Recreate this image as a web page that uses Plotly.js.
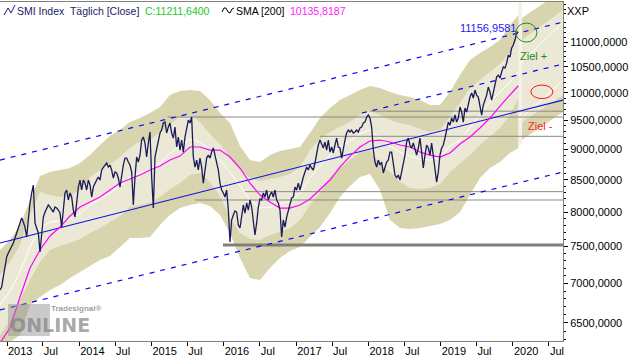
<!DOCTYPE html>
<html><head><meta charset="utf-8">
<script src="https://cdn.plot.ly/plotly-3.0.1.min.js"></script>
<style>html,body{margin:0;padding:0;background:#fff}#chart{width:640px;height:360px}</style>
</head><body><div id="chart"></div>
<script>
// ---- time index: series are sampled every ~8.42 days starting 2012-11-26
const seriesStartUTC = Date.UTC(2012, 10, 26, 15);
const sampleDays = 8.4198;

// SMI daily close (sampled)
const smiClose = [
6914,6953,7085,7219,7355,7410,7452,7494,7550,7621,
7693,7765,7838,7912,7853,7779,7635,7926,8137,8291,
8416,7838,7779,7693,7424,7736,7926,8001,8061,8107,
8076,8031,8001,8076,8061,8031,7986,7779,8031,8291,
8338,8183,8291,8229,8031,7926,8137,8384,8495,8338,
8495,8447,8338,8495,8416,8229,8384,8447,8495,8543,
8495,8656,8704,8737,8770,8704,8737,8656,8527,8624,
8608,8527,8384,8608,8737,8852,8852,8786,8737,8624,
8107,8543,8869,8786,8902,9156,9208,9105,8869,9105,
9294,8543,8061,8869,9020,9156,9277,9329,9452,9469,
9277,9381,9452,9277,9190,9381,9037,9208,8986,9156,
8952,9208,9381,9505,9452,9559,8869,8704,8819,8656,
8852,8704,8447,8656,8852,8902,8852,8952,9020,8902,
8786,8656,8447,8338,8291,8229,8338,8031,7565,7882,
7956,8016,8001,7809,7765,7926,8107,7986,8137,8031,
8183,8076,7882,7664,7838,8076,8199,8183,8291,8229,
8338,8183,8260,8307,8229,8338,8183,8137,8031,7635,
7882,7779,7926,8031,8137,8214,8229,8384,8338,8447,
8338,8463,8543,8624,8704,8656,8737,8688,8656,8770,
8936,9071,9156,9071,9020,9122,8986,9156,8952,9037,
8936,9071,9190,9037,9020,8852,9020,9156,9277,9329,
9294,9329,9277,9294,9329,9294,9364,9381,9452,9469,
9559,9595,9541,9381,8986,8786,8704,8819,8737,8786,
8608,8688,8786,8819,8952,8952,8737,8575,8527,8575,
8495,8624,8786,8902,9122,9190,9071,9020,9105,9020,
8902,9020,9190,8952,8688,8902,9071,9020,8902,9105,
8902,8624,8463,8624,8902,9020,9071,9190,9364,9469,
9416,9541,9469,9595,9469,9541,9740,9649,9469,9721,
9649,9813,9923,9998,9905,10054,9960,9923,9721,9595,
9776,9868,9960,10111,10016,9868,10016,10187,10302,10341,
10283,10399,10497,10477,10575,10735,10695,10877,10938,11041,
11186,11211.64];

// SMA 200 (every 6th sample + last)
const sma200 = [6261,6439,6824,7205,7452,7650,7779,7941,8076,8152,8229,8338,8447,8511,8575,8656,8720,8819,8885,9037,
9037,8986,8986,8869,8688,8447,8260,8152,8061,8061,8107,8199,8338,8495,8704,8885,9037,9139,9156,9122,
9071,9037,8952,8902,8869,8936,9088,9208,9364,9541,9758,9960,10135.8187];

// band (every 6th sample + last)
const bandOuterUpper = [7452,7593,7809,8183,8559,8624,8656,8688,8770,8902,9071,9225,9329,9469,9541,9631,9740,9960,10035,10054,
10035,9868,9631,9452,9054,8819,8786,8902,8969,9003,9037,9277,9541,9721,9868,9960,10054,10130,10092,10016,
9960,9923,9868,9776,9776,10016,10341,10635,10775,10897,11041,11355,11569];
const bandInnerUpper = [7111,7287,7522,7956,8307,8260,8229,8245,8338,8543,8656,8753,8869,9020,9139,9156,9294,9434,9559,9595,
9469,9259,9088,8852,8656,8527,8479,8511,8543,8591,8704,8986,9173,9294,9381,9469,9595,9667,9595,9505,
9452,9416,9347,9294,9329,9559,9813,10092,10244,10399,10556,10795,11144];
const bandCenter = [6723,6901,7151,7494,7779,7853,7867,7897,7971,8107,8199,8291,8400,8543,8608,8656,8770,8936,9054,9173,
9122,8986,8819,8624,8400,8183,8061,8076,8122,8168,8291,8527,8720,8902,9037,9139,9259,9329,9190,9054,
8952,8885,8835,8819,8869,9054,9156,9364,9595,9831,10016,10206,10399];
const bandInnerLower = [6355,6537,6786,7045,7287,7452,7508,7550,7607,7693,7765,7853,7941,8076,8107,8137,8229,8354,8447,8575,
8608,8463,8245,7912,7693,7607,7593,7664,7707,7765,7882,8107,8291,8543,8688,8819,8952,8986,8737,8624,
8463,8369,8354,8369,8432,8624,8770,8902,9071,9225,9364,9595,9905];
const bandOuterLower = [6237,6272,6355,6723,6824,6914,6979,7071,7151,7232,7314,7369,7494,7621,7621,7635,7809,7956,8061,8107,
8137,8091,7956,7693,7342,7071,7045,7205,7342,7438,7494,7635,7779,7986,8229,8401,8543,8591,8338,7882,
7765,7751,7765,7794,7823,7882,8001,8260,8527,8688,8786,8936,9020];

// projection zone right of the data
const projDates = ['2020-02-15', '2020-09-10'];
const projOuterTop = [11505, 12125];
const projOuterBottom = [9156, 9649];
const projInnerTop = [11041, 11678];
const projInnerBottom = [9469, 9960];
const projLineA = [10595, 11419];
const projLineB = [9541, 10244];
const gapDates = ['2020-01-28', '2020-02-15'];
const gapTop = [12125, 12125];
const gapBottom = [9071, 9071];

// channel lines
const chanDates = ['2012-11-26 15:00', '2020-09-10'];
const chanUpperDashed = [8819, 11419];
const chanLowerDashed = [6660, 8624];
const trendSolid = [7550, 9868];
const midDashedDates = ['2017-11-29', '2020-09-10'];
const midDashed = [9631, 10556];

// horizontal levels
const levelValues = [9559, 9664, 9220, 8312, 8183, 7522];
const levelStarts = ['2015-03-24', '2018-01-09', '2017-05-01', '2016-04-17', '2015-08-09', '2015-12-28'];
const levelWidths = [1, 1, 1, 1, 1, 3];
const levelEnd = '2020-09-10';

// labels / markers
const lastChannelValue = 11156.9581;
const targetUpValue = 10715, targetUpDate = '2020-04-14';
const targetDownValue = 9399, targetDownDate = '2020-05-21';
const greenEllipse = {d0: '2020-01-16', d1: '2020-05-01', v0: 11000, v1: 11398};
const redEllipse = {d0: '2020-04-01', d1: '2020-07-21', v0: 9895, v1: 10149};

// axes
const yTickVals = [6500,7000,7500,8000,8500,9000,9500,10000,10500,11000];
const yTickText = ['6500,0000','7000,0000','7500,0000','8000,0000','8500,0000','9000,0000','9500,0000','10000,0000','10500,0000','11000,0000'];
const xTickVals = ['2013-01-01','2013-07-01','2014-01-01','2014-07-01','2015-01-01','2015-07-01','2016-01-01','2016-07-01',
'2017-01-01','2017-07-01','2018-01-01','2018-07-01','2019-01-01','2019-07-01','2020-01-01','2020-07-01'];
const xTickText = ['2013','Jul','2014','Jul','2015','Jul','2016','Jul','2017','Jul','2018','Jul','2019','Jul','2020','Jul'];

// ---- build
function sampleDate(k) {
  return new Date(seriesStartUTC + k * sampleDays * 86400000).toISOString().slice(0, 19).replace('T', ' ');
}
const priceX = smiClose.map((_, i) => sampleDate(i));
const lastK = smiClose.length - 1;
const bandX = bandOuterUpper.map((_, i) => sampleDate(i === bandOuterUpper.length - 1 ? lastK : i * 6));

const DARK = '#d8d4ae', LIGHT = '#ebe9d6', STRIP = '#f3f2e8';
const FONT = 'Liberation Sans, Arial, sans-serif';

const traces = [];
const poly = (xs, top, bot, color) => ({x: [xs[0], xs[1], xs[1], xs[0]], y: [top[0], top[1], bot[1], bot[0]],
  mode: 'lines', fill: 'toself', fillcolor: color, line: {width: 0}, hoverinfo: 'skip'});
traces.push(poly(projDates, projOuterTop, projOuterBottom, DARK));
traces.push(poly(projDates, projInnerTop, projInnerBottom, LIGHT));
traces.push(poly(gapDates, gapTop, gapBottom, STRIP));
traces.push({x: bandX, y: bandOuterUpper, mode: 'lines', line: {width: 0}});
traces.push({x: bandX, y: bandOuterLower, mode: 'lines', line: {width: 0}, fill: 'tonexty', fillcolor: DARK});
traces.push({x: bandX, y: bandInnerUpper, mode: 'lines', line: {width: 0}});
traces.push({x: bandX, y: bandInnerLower, mode: 'lines', line: {width: 0}, fill: 'tonexty', fillcolor: LIGHT});
traces.push({x: bandX, y: bandCenter, mode: 'lines', line: {width: 1, color: '#ffffff'}});
traces.push({x: projDates, y: projLineA, mode: 'lines', line: {width: 1, color: '#ffffff'}});
traces.push({x: projDates, y: projLineB, mode: 'lines', line: {width: 1, color: '#ffffff'}});
levelValues.forEach((v, i) => traces.push({x: [levelStarts[i], levelEnd], y: [v, v], mode: 'lines',
  line: {width: levelWidths[i], color: levelWidths[i] > 1 ? '#808078' : '#8a8a84'}}));
const BLUE = '#0a0ae6';
traces.push({x: chanDates, y: chanUpperDashed, mode: 'lines', line: {width: 1.2, color: BLUE, dash: '5px,6px'}});
traces.push({x: chanDates, y: chanLowerDashed, mode: 'lines', line: {width: 1.2, color: BLUE, dash: '5px,6px'}});
traces.push({x: midDashedDates, y: midDashed, mode: 'lines', line: {width: 1.2, color: BLUE, dash: '5px,6px'}});
traces.push({x: chanDates, y: trendSolid, mode: 'lines', line: {width: 1.2, color: BLUE}});
traces.push({x: bandX, y: sma200, mode: 'lines', line: {width: 1.2, color: '#ff00ff'}});
traces.push({x: priceX, y: smiClose, mode: 'lines', line: {width: 1.3, color: '#1a1a5a'}});
traces.push({x: [priceX[0]], y: [7000], yaxis: 'y2', mode: 'markers', marker: {opacity: 0}});
traces.forEach(t => { t.showlegend = false; t.hoverinfo = 'skip'; });

const yMinor = [];
for (let v = 6300; v <= 11800; v += 100) if (v % 500 !== 0) yMinor.push(v);

const yRange = [Math.log10(6284), Math.log10(11857)];
const px = v => v / 563, py = v => (341 - v) / 339;

const layout = {
  width: 640, height: 360,
  margin: {l: 0, r: 77, t: 2, b: 19},
  paper_bgcolor: '#ffffff', plot_bgcolor: '#ffffff',
  font: {family: FONT, size: 11, color: '#000'},
  showlegend: false, hovermode: false,
  xaxis: {type: 'date', range: ['2012-11-26 15:00', '2020-09-10'], tickvals: xTickVals, ticktext: xTickText,
    ticks: 'outside', ticklen: 4, tickcolor: '#000', showline: true, linecolor: '#808080', mirror: true,
    showgrid: false, zeroline: false, ticklabelposition: 'outside right', tickfont: {family: FONT, size: 11, color: '#000'}},
  yaxis: {type: 'log', range: yRange, side: 'right', tickvals: yTickVals, ticktext: yTickText,
    ticks: 'outside', ticklen: 4, tickcolor: '#000', showline: true, linecolor: '#808080', mirror: true,
    showgrid: false, zeroline: false, tickfont: {family: FONT, size: 11, color: '#000'}},
  yaxis2: {type: 'log', range: yRange, overlaying: 'y', side: 'right', tickvals: yMinor, ticks: 'outside',
    ticklen: 2, tickcolor: '#000', showticklabels: false, showline: false, showgrid: false, zeroline: false},
  shapes: [
    {type: 'circle', xref: 'x', yref: 'y', x0: greenEllipse.d0, x1: greenEllipse.d1, y0: greenEllipse.v0, y1: greenEllipse.v1,
      line: {color: '#1f8a1f', width: 1}},
    {type: 'circle', xref: 'x', yref: 'y', x0: redEllipse.d0, x1: redEllipse.d1, y0: redEllipse.v0, y1: redEllipse.v1,
      line: {color: '#ff1010', width: 1}},
    {type: 'path', xref: 'paper', yref: 'paper', line: {color: '#1a1a7a', width: 1},
      path: `M ${px(4)},${py(15)} L ${px(8)},${py(8)} L ${px(11)},${py(13)} L ${px(15)},${py(5)}`},
    {type: 'path', xref: 'paper', yref: 'paper', line: {color: '#000', width: 1},
      path: `M ${px(222)},${py(12)} L ${px(224)},${py(8)} L ${px(226)},${py(8)} L ${px(228)},${py(12)} L ${px(230)},${py(13)} L ${px(232)},${py(9)} L ${px(234)},${py(8)}`},
    {type: 'rect', xref: 'paper', yref: 'paper', x0: px(8), x1: px(50), y0: py(336), y1: py(304),
      fillcolor: 'rgba(150,150,150,0.5)', line: {width: 0}, layer: 'above'}
  ],
  annotations: [
    {xref: 'paper', yref: 'paper', x: px(15), y: 1, xanchor: 'left', yanchor: 'top', yshift: -1, showarrow: false,
      text: 'SMI Index  Täglich [Close]', font: {family: FONT, size: 10.5, color: '#1a1a6a'}},
    {xref: 'paper', yref: 'paper', x: px(143), y: 1, xanchor: 'left', yanchor: 'top', yshift: -1, showarrow: false,
      text: 'C:11211,6400', font: {family: FONT, size: 10.5, color: '#1ec81e'}},
    {xref: 'paper', yref: 'paper', x: px(234), y: 1, xanchor: 'left', yanchor: 'top', yshift: -1, showarrow: false,
      text: 'SMA [200]', font: {family: FONT, size: 10.5, color: '#000'}},
    {xref: 'paper', yref: 'paper', x: px(288), y: 1, xanchor: 'left', yanchor: 'top', yshift: -1, showarrow: false,
      text: '10135,8187', font: {family: FONT, size: 10.5, color: '#ff20ff'}},
    {xref: 'paper', yref: 'paper', x: 1, y: 1, xanchor: 'left', yanchor: 'top', xshift: 2, yshift: -1, showarrow: false,
      text: 'XXP', font: {family: FONT, size: 11, color: '#000'}},
    {xref: 'x', yref: 'y', x: priceX[lastK], y: Math.log10(lastChannelValue), xanchor: 'right', yanchor: 'bottom',
      yshift: -2, showarrow: false, text: '11156,9581', font: {family: FONT, size: 11, color: '#2020ff'}},
    {xref: 'x', yref: 'y', x: targetUpDate, y: Math.log10(targetUpValue), showarrow: false,
      text: 'Ziel +', font: {family: FONT, size: 11, color: '#1f8a1f'}},
    {xref: 'x', yref: 'y', x: targetDownDate, y: Math.log10(targetDownValue), showarrow: false,
      text: 'Ziel -', font: {family: FONT, size: 11, color: '#ff1a1a'}},
    {xref: 'paper', yref: 'paper', x: px(49), y: py(308), xanchor: 'left', yanchor: 'middle', showarrow: false,
      text: '<b>Tradesignal®</b>', font: {family: FONT, size: 8, color: 'rgba(140,140,140,0.85)'}},
    {xref: 'paper', yref: 'paper', x: px(8), y: py(325), xanchor: 'left', yanchor: 'middle', showarrow: false,
      text: '<b>ONLINE</b>', font: {family: 'DejaVu Sans, sans-serif', size: 19, color: 'rgba(130,130,130,0.7)'}}
  ]
};

Plotly.newPlot('chart', traces, layout, {staticPlot: true, displayModeBar: false});
</script></body></html>
